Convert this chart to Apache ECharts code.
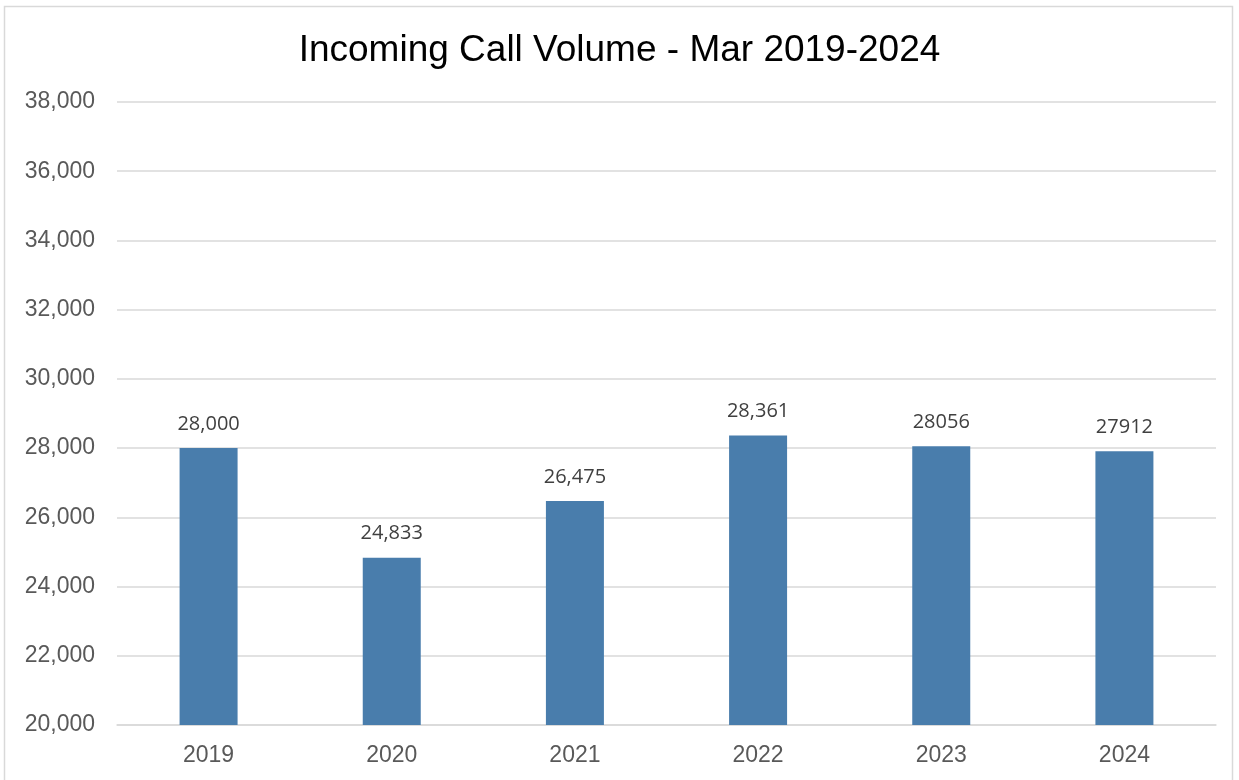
<!DOCTYPE html>
<head>
    <meta charset="utf-8">
    <title>Incoming Call Volume</title>
    <style>body{margin:0;background:#fff;}</style>
</head>
<body>
   <div id="main" style="width:1239px;height:780px"></div>
   <script src="https://cdn.jsdelivr.net/npm/echarts@6/dist/echarts.min.js"></script>
   <script type="text/javascript">
    var years = ['2019', '2020', '2021', '2022', '2023', '2024'];
    var calls = [28000, 24833, 26475, 28361, 28056, 27912];
    // labels as shown on the chart (last two have no thousands separator)
    var callLabels = ['28,000', '24,833', '26,475', '28,361', '28056', '27912'];

    var myChart = echarts.init(document.getElementById('main'));
    var option = {
        animation: false,
        backgroundColor: '#fff',
        title: {
            text: 'Incoming Call Volume - Mar 2019-2024',
            left: 'center',
            top: 27,
            textStyle: {
                fontFamily: 'Liberation Sans',
                fontSize: 37,
                fontWeight: 'normal',
                color: '#000'
            }
        },
        graphic: [{
            type: 'rect',
            shape: {x: 4.5, y: 6.5, width: 1228, height: 780},
            style: {fill: 'none', stroke: '#d9d9d9', lineWidth: 1.5}
        }],
        grid: {left: 117, right: 23, top: 102, bottom: 55},
        xAxis: {
            type: 'category',
            data: years,
            axisLine: {lineStyle: {color: '#d9d9d9', width: 1.5}},
            axisTick: {show: false},
            axisLabel: {
                color: '#595959',
                fontFamily: 'Liberation Sans',
                fontSize: 23,
                margin: 19
            }
        },
        yAxis: {
            type: 'value',
            min: 20000,
            max: 38000,
            interval: 2000,
            axisLine: {show: false},
            axisTick: {show: false},
            splitLine: {lineStyle: {color: '#d9d9d9', width: 1.5}},
            axisLabel: {
                color: '#595959',
                fontFamily: 'Liberation Sans',
                fontSize: 23,
                margin: 22,
                formatter: function (v) { return v.toLocaleString('en-US'); }
            }
        },
        series: [{
            name: 'Calls',
            type: 'bar',
            data: calls,
            barWidth: 58,
            itemStyle: {color: '#497dac'},
            label: {
                show: true,
                position: 'top',
                distance: 14,
                color: '#404040',
                fontFamily: 'Open Sans',
                fontSize: 20,
                formatter: function (p) { return callLabels[p.dataIndex]; }
            }
        }]
    };
    myChart.setOption(option);
   </script>
</body>
